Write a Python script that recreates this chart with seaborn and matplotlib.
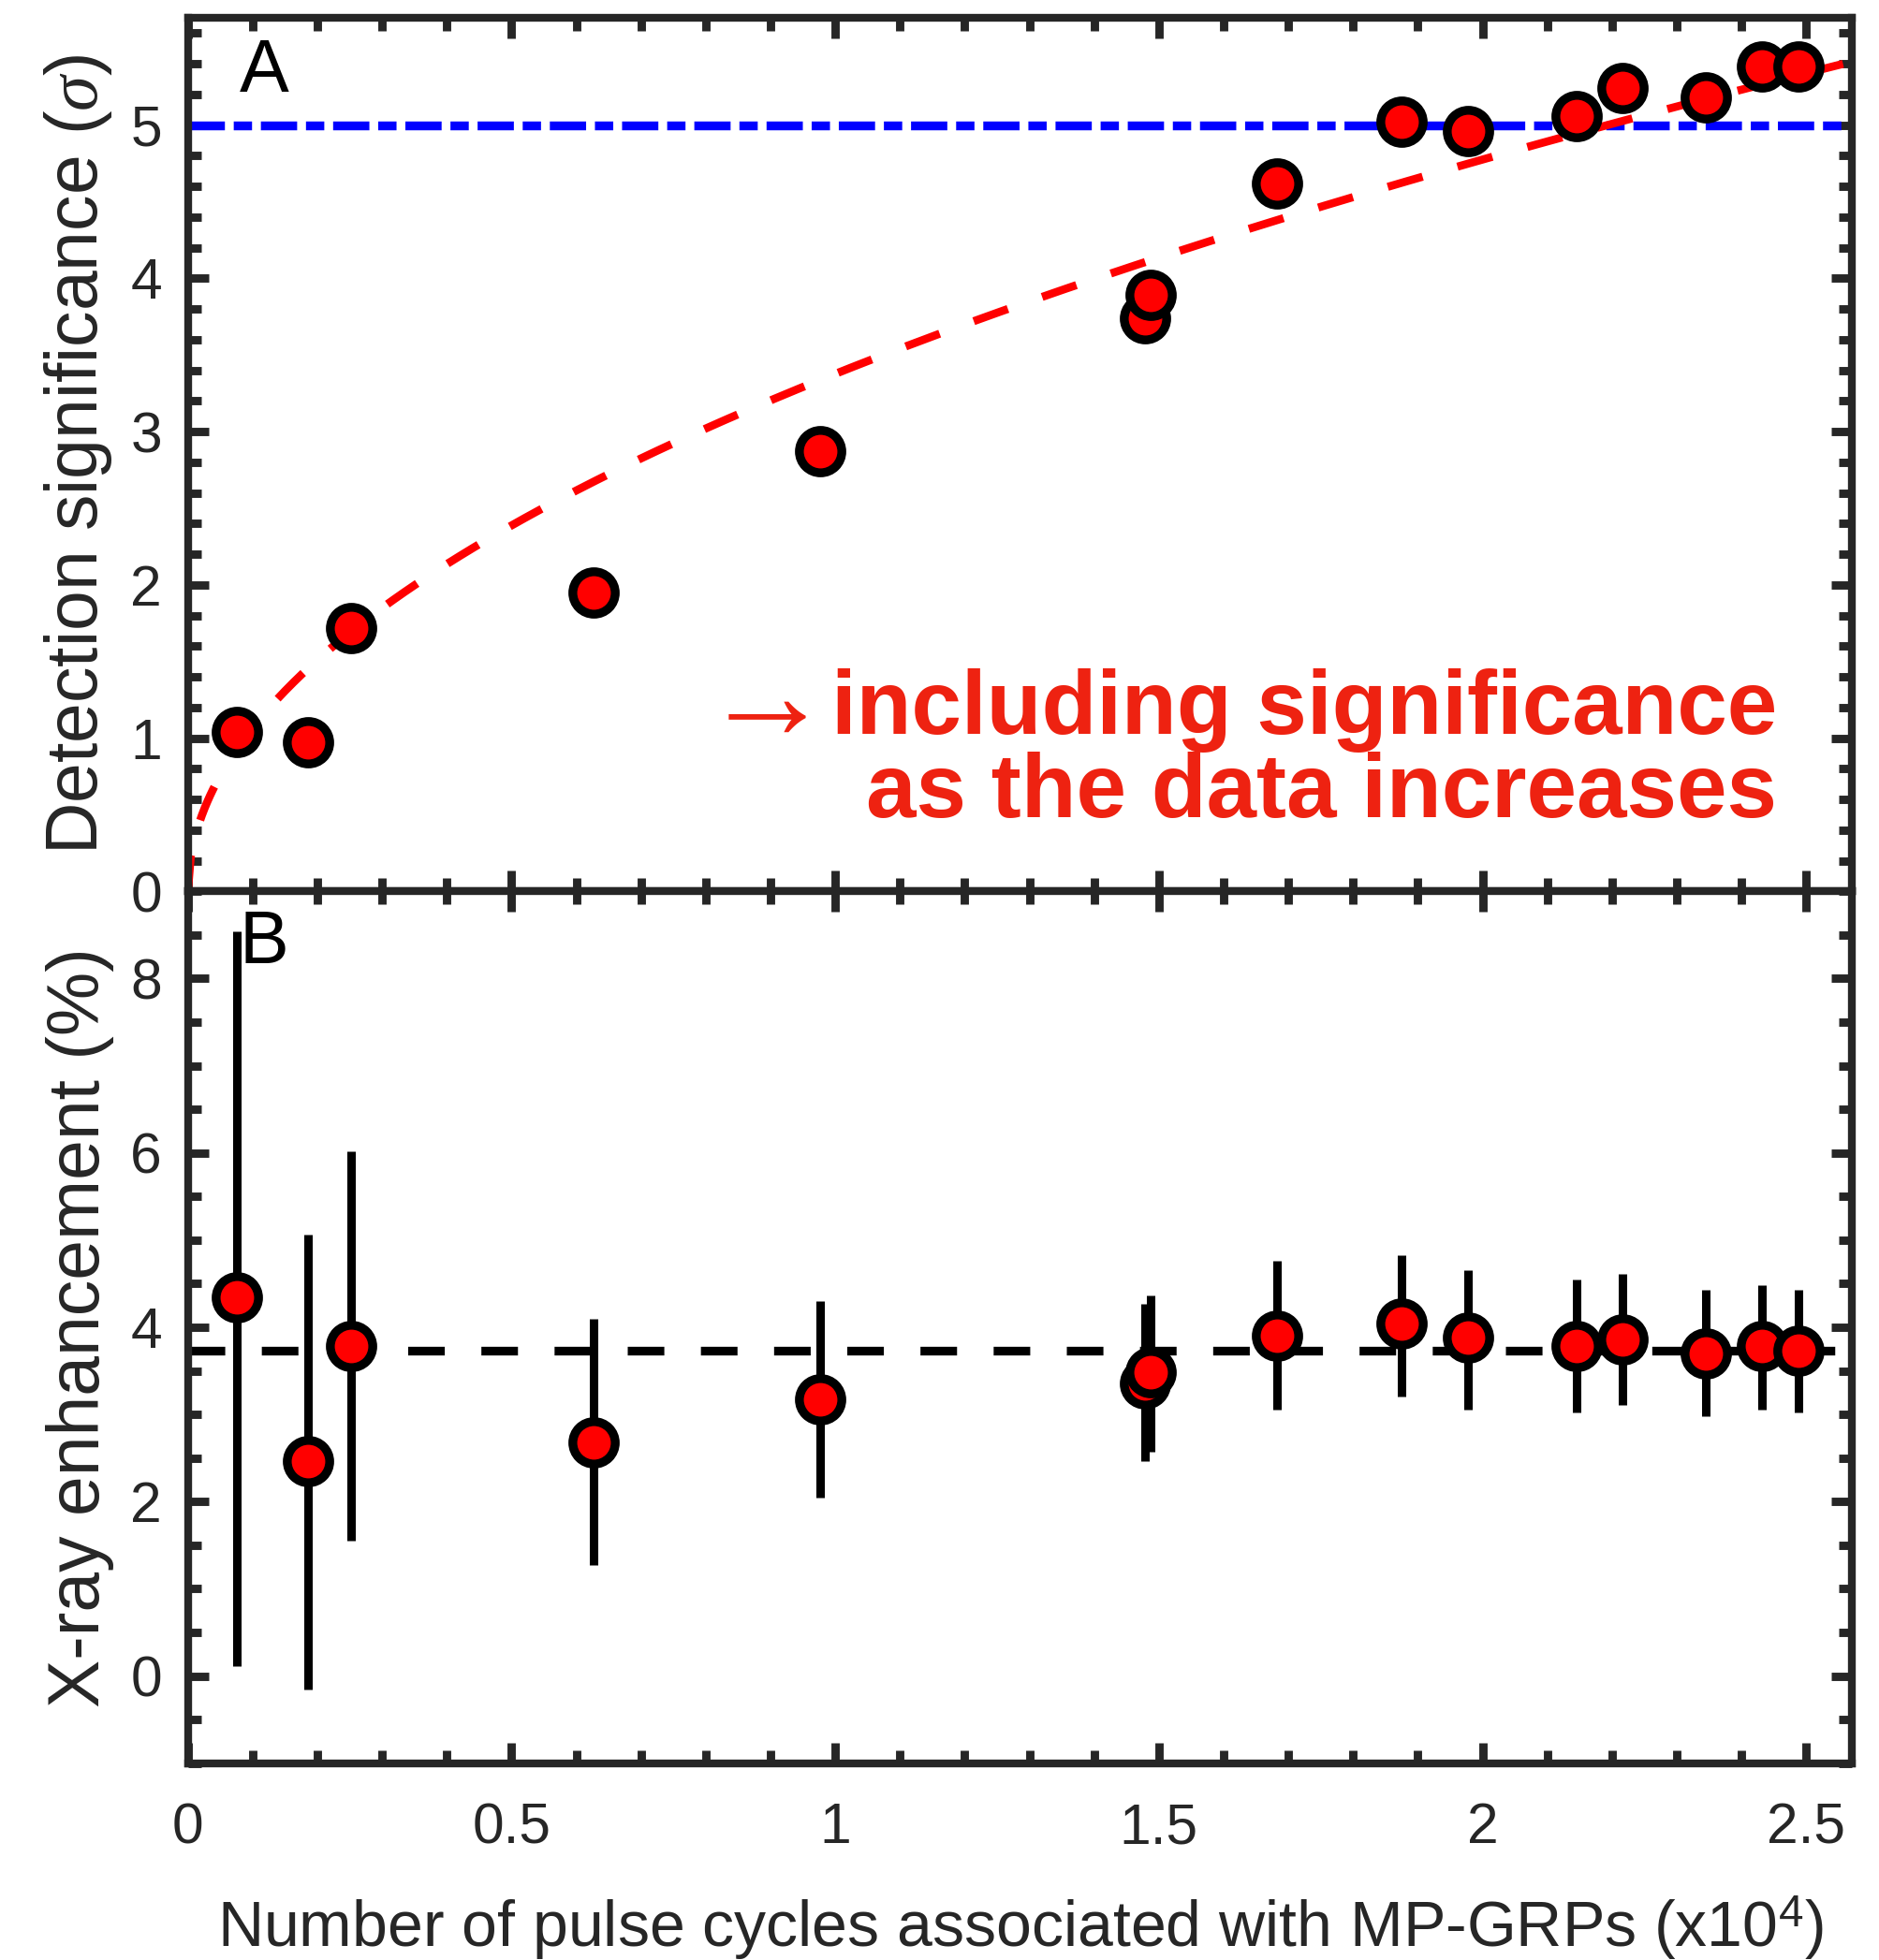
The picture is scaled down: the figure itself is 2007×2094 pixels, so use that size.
import numpy as np
import pandas as pd
import matplotlib
matplotlib.use("Agg")
import matplotlib.pyplot as plt
import seaborn as sns
from matplotlib.ticker import MultipleLocator, FixedLocator

# ---------------- data ----------------
n_cycles = [0.075, 0.186, 0.252, 0.626, 0.976, 1.479, 1.487, 1.682, 1.875,
            1.978, 2.145, 2.216, 2.345, 2.431, 2.488]          # x10^4
significance = [1.04, 0.97, 1.72, 1.95, 2.87, 3.74, 3.89, 4.62, 5.02,
                4.96, 5.06, 5.24, 5.18, 5.38, 5.38]           # sigma
enhancement = [4.34, 2.46, 3.79, 2.68, 3.17, 3.36, 3.48, 3.90, 4.04,
               3.88, 3.78, 3.86, 3.70, 3.78, 3.73]            # %
enh_upper = [8.54, 5.06, 6.02, 4.10, 4.30, 4.27, 4.37, 4.76, 4.83,
             4.65, 4.55, 4.61, 4.43, 4.48, 4.43]
enh_lower = [0.11, -0.15, 1.55, 1.27, 2.05, 2.46, 2.57, 3.05, 3.21,
             3.06, 3.02, 3.11, 2.98, 3.06, 3.02]
sig_threshold = 5.0
mean_enhancement = 3.73
x_ticks = [0, 0.5, 1, 1.5, 2, 2.5]
x_tick_labels = ["0", "0.5", "1", "1.5", "2", "2.5"]
sig_ticks = [0, 1, 2, 3, 4, 5]
enh_ticks = [0, 2, 4, 6, 8]
x_max = 2.571

df = pd.DataFrame({"n": n_cycles, "sig": significance, "enh": enhancement,
                   "up": enh_upper, "lo": enh_lower})

# least-squares fit sig = a*sqrt(n)
xs = np.asarray(n_cycles)
ys = np.asarray(significance)
a_fit = np.sum(ys * np.sqrt(xs)) / np.sum(xs)
fit_x = np.linspace(0, x_max, 600)
fit_df = pd.DataFrame({"n": fit_x, "sig": a_fit * np.sqrt(fit_x)})

# ---------------- style ----------------
sns.set_theme(style="white")
plt.rcParams['font.family'] = ['Liberation Sans', 'DejaVu Sans']
plt.rcParams['mathtext.fontset'] = 'custom'
plt.rcParams['mathtext.rm'] = 'Liberation Sans'
plt.rcParams['mathtext.it'] = 'Liberation Serif:italic'
plt.rcParams['mathtext.bf'] = 'Liberation Sans:bold'

DARK = '#262626'
RED_TXT = '#EE2211'

W, H = 2008, 2094
fig = plt.figure(figsize=(W / 200, H / 200), dpi=200)
L = 200.7 / W
R = 1978.3 / W
TOP = 1 - 19.0 / H
MID = 1 - 952.3 / H
BOT = 1 - 1883.7 / H
axA = fig.add_axes([L, MID, R - L, TOP - MID])
axB = fig.add_axes([L, BOT, R - L, MID - BOT])

for ax in (axA, axB):
    ax.set_facecolor('white')
    ax.set_xlim(0, x_max)
    for sp in ax.spines.values():
        sp.set_visible(True)
        sp.set_linewidth(3.0)
        sp.set_color(DARK)
    ax.xaxis.set_major_locator(FixedLocator(x_ticks))
    ax.xaxis.set_minor_locator(MultipleLocator(0.1))
    ax.tick_params(which='both', direction='in', top=True, right=True,
                   bottom=True, left=True, color=DARK, width=3.2,
                   labelcolor=DARK, labelsize=21.8)
    ax.tick_params(which='major', length=8)
    ax.tick_params(which='minor', length=5)
    ax.tick_params(axis='x', pad=15)
    ax.tick_params(axis='y', pad=10)
    ax.grid(False)

# ---------------- panel A ----------------
axA.set_ylim(0, 5.7)
axA.yaxis.set_major_locator(FixedLocator(sig_ticks))
axA.yaxis.set_minor_locator(MultipleLocator(0.2))
axA.set_yticklabels([str(t) for t in sig_ticks])
axA.tick_params(axis='x', labelbottom=False)

axA.axhline(sig_threshold, color='#0000FF', lw=3.4,
            linestyle=(0, (4.1, 1.0, 2.07, 1.0)), zorder=2)
sns.lineplot(data=fit_df, x="n", y="sig", ax=axA, color='#FF0000', lw=3.1,
             linestyle=(0, (4.5, 4.5)), zorder=2, sort=False, estimator=None)
sns.scatterplot(data=df, x="n", y="sig", ax=axA, s=266, color='#FF0000',
                edgecolor='black', linewidth=3.4, zorder=4, legend=False)
axA.set_xlabel("")
axA.set_ylabel(r"Detection significance ($\sigma$)", fontsize=27.7, color=DARK)
axA.yaxis.set_label_coords(-0.044, 0.5)
axA.text(0.031, 0.915, "A", transform=axA.transAxes, fontsize=28.5,
         color='black', ha='left', va='baseline')

t1 = axA.text(0.955, 0.1805, "including significance", transform=axA.transAxes,
              fontsize=34.6, fontweight='bold', color=RED_TXT,
              ha='right', va='baseline')
axA.text(0.955, 0.0854, "as the data increases", transform=axA.transAxes,
         fontsize=34.6, fontweight='bold', color=RED_TXT,
         ha='right', va='baseline')
axA.annotate("\u2192", xy=(0, 0), xycoords=t1, xytext=(0, 5.4),
             textcoords='offset points', ha='right', va='baseline',
             fontsize=50, color=RED_TXT)

# ---------------- panel B ----------------
axB.set_ylim(-1, 9)
axB.yaxis.set_major_locator(FixedLocator(enh_ticks))
axB.yaxis.set_minor_locator(MultipleLocator(0.5))
axB.set_yticklabels([str(t) for t in enh_ticks])
axB.set_xticklabels(x_tick_labels)

axB.axhline(mean_enhancement, color='black', lw=3.35,
            linestyle=(0, (4.2, 4.2)), zorder=2)
yerr = np.vstack([df["enh"] - df["lo"], df["up"] - df["enh"]])
axB.errorbar(df["n"], df["enh"], yerr=yerr, fmt='none', ecolor='black',
             elinewidth=3.25, capsize=0, zorder=3)
sns.scatterplot(data=df, x="n", y="enh", ax=axB, s=266, color='#FF0000',
                edgecolor='black', linewidth=3.4, zorder=4, legend=False)
axB.set_ylabel("X-ray enhancement (%)", fontsize=27.7, color=DARK)
axB.yaxis.set_label_coords(-0.044, 0.5)
axB.set_xlabel(r"Number of pulse cycles associated with MP-GRPs (x10$^{\mathrm{4}}$)",
               fontsize=24.5, color=DARK)
axB.xaxis.set_label_coords(0.5, -0.150)
axB.text(0.031, 0.918, "B", transform=axB.transAxes, fontsize=28.5,
         color='black', ha='left', va='baseline')

fig.savefig("out.png", dpi=200, facecolor='white')
